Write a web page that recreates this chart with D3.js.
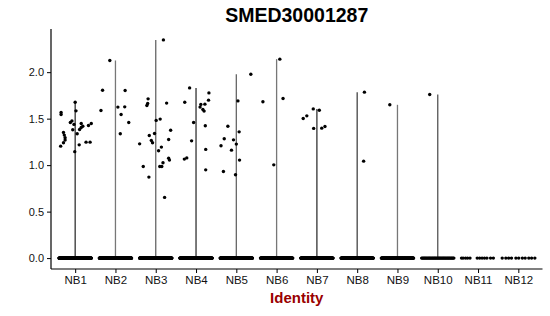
<!DOCTYPE html>
<html lang="en">
<head>
<meta charset="UTF-8">
<title>SMED30001287</title>
<script src="https://d3js.org/d3.v7.min.js"></script>
<style>
  body { margin: 0; background: #fff; }
  svg text { font-family: "Liberation Sans", Arial, sans-serif; }
</style>
</head>
<body>
<div id="chart"></div>
<script>
// clusters on the x axis
const groups = ["NB1", "NB2", "NB3", "NB4", "NB5", "NB6", "NB7", "NB8", "NB9", "NB10", "NB11", "NB12"];
const yTicks = [0, 0.5, 1, 1.5, 2];

// expressing cells: [group, expression, jitter (in category units)]
const expressed = [
  ["NB1", 1.204, -0.36], ["NB1", 1.567, -0.35], ["NB1", 1.545, -0.35], ["NB1", 1.352, -0.29],
  ["NB1", 1.323, -0.27], ["NB1", 1.294, -0.25], ["NB1", 1.269, -0.25], ["NB1", 1.240, -0.29],
  ["NB1", 1.459, -0.12], ["NB1", 1.476, -0.08], ["NB1", 1.380, -0.06], ["NB1", 1.438, -0.03],
  ["NB1", 1.677, 0.00], ["NB1", 1.584, 0.02], ["NB1", 1.337, 0.05], ["NB1", 1.218, 0.10],
  ["NB1", 1.384, 0.11], ["NB1", 1.405, 0.15], ["NB1", 1.448, 0.15], ["NB1", 1.419, 0.19],
  ["NB1", 1.247, 0.27], ["NB1", 1.247, 0.37], ["NB1", 1.427, 0.33], ["NB1", 1.448, 0.40],
  ["NB1", 1.145, -0.01],
  ["NB2", 2.126, -0.14], ["NB2", 1.806, -0.32], ["NB2", 1.588, -0.36], ["NB2", 1.624, 0.06],
  ["NB2", 1.803, 0.24], ["NB2", 1.627, 0.23], ["NB2", 1.545, 0.14], ["NB2", 1.337, 0.12],
  ["NB2", 1.459, 0.33],
  ["NB3", 2.347, 0.19], ["NB3", 1.713, -0.19], ["NB3", 1.663, -0.20], ["NB3", 1.642, -0.22],
  ["NB3", 1.667, 0.27], ["NB3", 1.481, 0.01], ["NB3", 1.495, 0.11], ["NB3", 1.376, 0.37],
  ["NB3", 1.341, -0.03], ["NB3", 1.319, -0.16], ["NB3", 1.229, -0.40], ["NB3", 1.266, -0.11],
  ["NB3", 1.240, -0.08], ["NB3", 1.276, 0.32], ["NB3", 1.194, 0.14], ["NB3", 1.154, 0.07],
  ["NB3", 1.075, 0.32], ["NB3", 1.054, 0.34], ["NB3", 0.986, -0.31], ["NB3", 1.025, 0.18],
  ["NB3", 0.986, 0.10], ["NB3", 0.986, 0.15], ["NB3", 0.871, -0.17], ["NB3", 0.653, 0.22],
  ["NB4", 1.831, -0.16], ["NB4", 1.777, 0.32], ["NB4", 1.677, -0.28], ["NB4", 1.699, 0.31],
  ["NB4", 1.656, 0.22], ["NB4", 1.653, 0.12], ["NB4", 1.624, 0.10], ["NB4", 1.599, 0.17],
  ["NB4", 1.581, 0.20], ["NB4", 1.459, -0.06], ["NB4", 1.423, 0.23], ["NB4", 1.261, -0.11],
  ["NB4", 1.169, 0.24], ["NB4", 1.078, -0.23], ["NB4", 1.065, -0.29], ["NB4", 0.949, 0.24],
  ["NB5", 1.978, 0.36], ["NB5", 1.691, 0.04], ["NB5", 1.419, -0.21], ["NB5", 1.358, 0.07],
  ["NB5", 1.283, -0.30], ["NB5", 1.272, -0.07], ["NB5", 1.226, 0.00], ["NB5", 1.208, -0.38],
  ["NB5", 1.161, -0.12], ["NB5", 1.054, 0.08], ["NB5", 0.932, -0.32], ["NB5", 0.896, -0.02],
  ["NB6", 2.140, 0.08], ["NB6", 1.681, -0.34], ["NB6", 1.717, 0.16], ["NB6", 1.003, -0.07],
  ["NB7", 1.605, -0.09], ["NB7", 1.591, 0.06], ["NB7", 1.502, -0.34], ["NB7", 1.530, -0.25],
  ["NB7", 1.395, -0.08], ["NB7", 1.398, 0.12], ["NB7", 1.416, 0.20],
  ["NB8", 1.785, 0.18], ["NB8", 1.043, 0.16],
  ["NB9", 1.649, -0.19],
  ["NB10", 1.760, -0.20]
];

// number of non-expressing cells (value 0) per cluster
const zeroCounts = [300, 260, 280, 260, 230, 170, 190, 180, 150, 40, 0, 0];
// the two small clusters, where single zero cells can be told apart
const sparseZeroJitter = {
  NB11: [-0.41, -0.37, -0.31, -0.26, -0.20, -0.02, 0.04, 0.10, 0.16, 0.22, 0.31, 0.38],
  NB12: [-0.40, -0.31, -0.24, -0.17, -0.06, 0.01, 0.10, 0.17, 0.26, 0.33, 0.41]
};

const width = 550, height = 316;
const plotLeft = 51, plotRight = 542.5, plotTop = 29, plotBottom = 269;

const svg = d3.select("#chart").append("svg")
  .attr("width", width)
  .attr("height", height);

const x = d3.scalePoint().domain(groups).range([plotLeft, plotRight]).padding(0.6);
const step = x.step();

const yMax = d3.max(expressed, d => d[1]);
const pad = yMax * 0.05;
const y = d3.scaleLinear().domain([-pad, yMax + pad]).range([plotBottom, plotTop]);

// zero cells
const zeros = [];
groups.forEach((g, i) => {
  if (sparseZeroJitter[g]) {
    sparseZeroJitter[g].forEach(j => zeros.push({ g, v: 0, j }));
  } else {
    const n = zeroCounts[i];
    for (let k = 0; k < n; k++) zeros.push({ g, v: 0, j: -0.4 + 0.8 * k / (n - 1) });
  }
});
const points = zeros.concat(expressed.map(d => ({ g: d[0], v: d[1], j: d[2] })));

// violins: almost every cell is 0, so each one collapses to a thin line
const maxByGroup = d3.rollup(expressed, v => d3.max(v, d => d[1]), d => d[0]);
const lineColors = ["#333", "#777", "#666", "#333", "#666", "#777", "#333", "#444", "#777", "#555"];
svg.append("g")
  .selectAll("line")
  .data(groups.filter(g => maxByGroup.has(g)))
  .join("line")
  .attr("x1", d => x(d))
  .attr("x2", d => x(d))
  .attr("y1", d => y(0))
  .attr("y2", d => y(maxByGroup.get(d)))
  .attr("stroke", (d, i) => lineColors[i])
  .attr("stroke-width", 1.3);

svg.append("g")
  .selectAll("circle")
  .data(points)
  .join("circle")
  .attr("cx", d => x(d.g) + d.j * step)
  .attr("cy", d => y(d.v))
  .attr("r", 1.7)
  .attr("fill", "#000");

// axes
const yAxis = svg.append("g")
  .attr("transform", `translate(${plotLeft},0)`)
  .call(d3.axisLeft(y).tickValues(yTicks).tickFormat(d3.format(".1f")).tickSize(4).tickPadding(3));
yAxis.select(".domain").attr("d", `M0,${plotTop}V${plotBottom}`);

const xAxis = svg.append("g")
  .attr("transform", `translate(0,${plotBottom})`)
  .call(d3.axisBottom(x).tickSize(4).tickPadding(3));
xAxis.select(".domain").attr("d", `M${plotLeft},0H${plotRight}`);

svg.selectAll(".domain").attr("stroke", "#000").attr("stroke-width", 1.2);
svg.selectAll(".tick line").attr("stroke", "#000").attr("stroke-width", 1);
svg.selectAll(".tick text")
  .attr("fill", "#111")
  .style("font-size", "11.5px")
  .style("font-family", "'Liberation Sans', Arial, sans-serif");
yAxis.selectAll(".tick text").style("font-size", "11px");

svg.append("text")
  .attr("x", (plotLeft + plotRight) / 2)
  .attr("y", 22)
  .attr("text-anchor", "middle")
  .style("font-size", "19.5px")
  .style("font-weight", "bold")
  .attr("fill", "#000")
  .text("SMED30001287");

svg.append("text")
  .attr("x", (plotLeft + plotRight) / 2)
  .attr("y", 303)
  .attr("text-anchor", "middle")
  .style("font-size", "15px")
  .style("font-weight", "bold")
  .attr("fill", "#990000")
  .text("Identity");
</script>
</body>
</html>
